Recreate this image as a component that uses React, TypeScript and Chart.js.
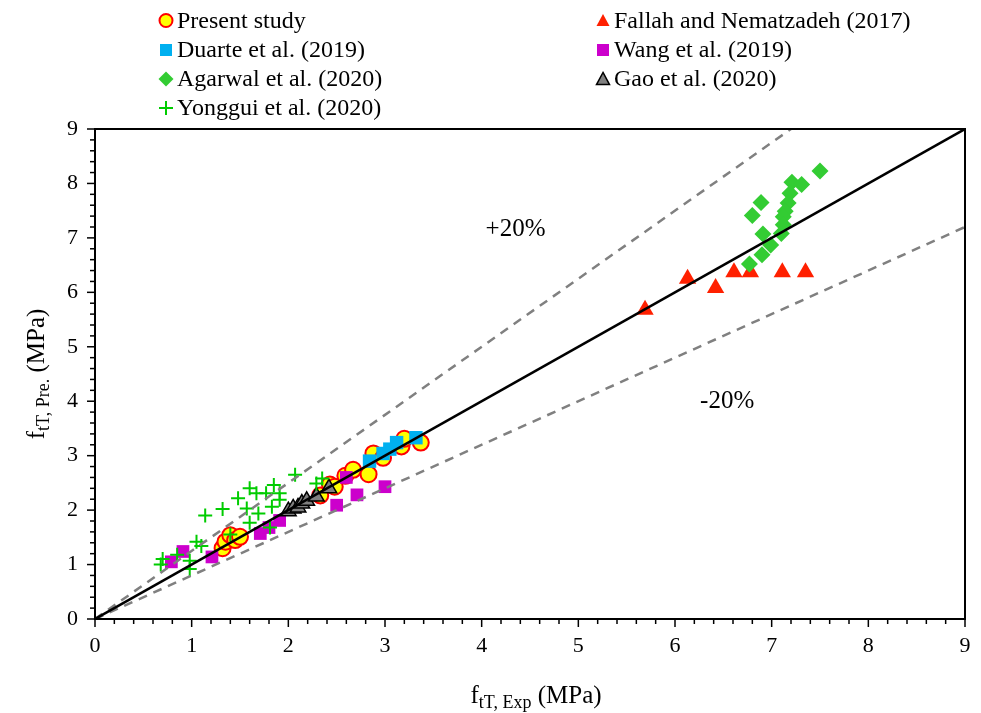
import React, { useEffect, useRef } from 'react';
import { Chart, registerables } from 'chart.js';

Chart.register(...registerables);

const FONT = '"Liberation Serif", "Times New Roman", Times, serif';

// ---- Data ----
const presentX = [1.32, 1.35, 1.40, 1.45, 1.50, 2.33, 2.43, 2.48, 2.59, 2.67, 2.83, 2.88, 2.98, 3.17, 3.20, 3.37];
const presentY = [1.30, 1.42, 1.54, 1.45, 1.51, 2.27, 2.47, 2.43, 2.63, 2.74, 2.66, 3.04, 2.96, 3.17, 3.31, 3.24];
const fallahX = [5.69, 6.13, 6.42, 6.61, 6.78, 7.11, 7.35];
const fallahY = [5.68, 6.25, 6.08, 6.37, 6.37, 6.37, 6.37];
const duarteX = [2.84, 2.98, 3.05, 3.12, 3.32];
const duarteY = [2.90, 3.04, 3.12, 3.24, 3.33];
const wangX = [0.79, 0.91, 1.21, 1.71, 1.80, 1.91, 2.50, 2.71, 3.00, 2.60];
const wangY = [1.05, 1.24, 1.14, 1.57, 1.68, 1.81, 2.09, 2.28, 2.43, 2.60];
const agarwalX = [7.50, 7.21, 7.31, 7.19, 6.89, 7.17, 6.80, 7.14, 7.12, 7.12, 6.91, 7.10, 6.99, 6.90, 6.77];
const agarwalY = [8.23, 8.02, 7.98, 7.82, 7.65, 7.64, 7.41, 7.49, 7.39, 7.24, 7.07, 7.08, 6.87, 6.69, 6.52];
const gaoX = [2.00, 2.05, 2.10, 2.14, 2.19, 2.29, 2.42];
const gaoY = [1.98, 2.03, 2.05, 2.12, 2.17, 2.25, 2.40];
const yongguiX = [0.68, 0.70, 0.85, 0.98, 0.98, 1.05, 1.10, 1.14, 1.32, 1.40, 1.48, 1.57, 1.60, 1.67, 1.69, 1.60, 1.77, 1.85, 1.91, 1.91, 1.83, 1.81, 2.07, 2.29, 2.35];
const yongguiY = [1.00, 1.10, 1.18, 1.07, 0.92, 1.42, 1.34, 1.90, 2.02, 1.55, 2.22, 2.03, 2.40, 2.31, 1.94, 1.77, 2.31, 2.46, 2.31, 2.19, 2.06, 1.68, 2.65, 2.49, 2.58];

// Reference lines
const equalityX = [0, 9];
const equalityY = [0, 9];
const plus20X = [0, 7.2];
const plus20Y = [0, 9];
const minus20X = [0, 9];
const minus20Y = [0, 7.2];

// Band labels
const bandLabels = ['+20%', '-20%'];
const bandLabelX = [4.35, 6.54];
const bandLabelY = [7.15, 3.99];

// Axis
const axisMin = 0;
const axisMax = 9;

const toPts = (xs: number[], ys: number[]) => xs.map((x, i) => ({ x, y: ys[i] }));

type Marker = {
  style: string;
  fill: string;
  stroke: string;
  lw: number;
};

function drawMarker(ctx: CanvasRenderingContext2D, m: Marker, x: number, y: number, r: number) {
  ctx.save();
  ctx.beginPath();
  ctx.fillStyle = m.fill;
  ctx.strokeStyle = m.stroke;
  ctx.lineWidth = m.lw;
  if (m.style === 'circle') {
    ctx.arc(x, y, r, 0, Math.PI * 2);
    ctx.fill();
    ctx.stroke();
  } else if (m.style === 'rect') {
    ctx.rect(x - r, y - r, 2 * r, 2 * r);
    ctx.fill();
    if (m.lw > 0) ctx.stroke();
  } else if (m.style === 'rectRot') {
    ctx.moveTo(x, y - r);
    ctx.lineTo(x + r, y);
    ctx.lineTo(x, y + r);
    ctx.lineTo(x - r, y);
    ctx.closePath();
    ctx.fill();
    if (m.lw > 0) ctx.stroke();
  } else if (m.style === 'triangle') {
    const h = r * 1.7;
    ctx.moveTo(x, y - h / 2 - 1);
    ctx.lineTo(x + r, y + h / 2);
    ctx.lineTo(x - r, y + h / 2);
    ctx.closePath();
    ctx.fill();
    if (m.lw > 0) ctx.stroke();
  } else if (m.style === 'cross') {
    ctx.moveTo(x - r, y);
    ctx.lineTo(x + r, y);
    ctx.moveTo(x, y - r);
    ctx.lineTo(x, y + r);
    ctx.stroke();
  }
  ctx.restore();
}

type Part = { t: string; size: number; dy: number };

function drawParts(ctx: CanvasRenderingContext2D, parts: Part[], cx: number, baseY: number) {
  let total = 0;
  const widths = parts.map((p) => {
    ctx.font = `${p.size}px ${FONT}`;
    const w = ctx.measureText(p.t).width;
    total += w;
    return w;
  });
  let x = cx - total / 2;
  ctx.textAlign = 'left';
  ctx.textBaseline = 'alphabetic';
  ctx.fillStyle = '#000';
  parts.forEach((p, i) => {
    ctx.font = `${p.size}px ${FONT}`;
    ctx.fillText(p.t, x, baseY + p.dy);
    x += widths[i];
  });
}

const legendLayout: Record<string, { col: number; row: number }> = {
  'Present study': { col: 0, row: 0 },
  'Fallah and Nematzadeh (2017)': { col: 1, row: 0 },
  'Duarte et al. (2019)': { col: 0, row: 1 },
  'Wang et al. (2019)': { col: 1, row: 1 },
  'Agarwal et al. (2020)': { col: 0, row: 2 },
  'Gao et al. (2020)': { col: 1, row: 2 },
  'Yonggui et al. (2020)': { col: 0, row: 3 },
};

const seriesMarkers: Record<string, Marker> = {
  'Present study': { style: 'circle', fill: '#FFFF00', stroke: '#FF0000', lw: 2 },
  'Fallah and Nematzadeh (2017)': { style: 'triangle', fill: '#FF2000', stroke: '#FF2000', lw: 0 },
  'Duarte et al. (2019)': { style: 'rect', fill: '#00B0F0', stroke: '#00B0F0', lw: 0 },
  'Wang et al. (2019)': { style: 'rect', fill: '#CC00CC', stroke: '#CC00CC', lw: 0 },
  'Agarwal et al. (2020)': { style: 'rectRot', fill: '#33CC33', stroke: '#33CC33', lw: 0 },
  'Gao et al. (2020)': { style: 'triangle', fill: '#808080', stroke: '#000000', lw: 1.5 },
  'Yonggui et al. (2020)': { style: 'cross', fill: '#00CC00', stroke: '#00CC00', lw: 2 },
};

const customPlugin = {
  id: 'customDecor',
  afterDraw(chart: any) {
    const { ctx, chartArea: ca, scales } = chart;
    const xs = scales.x;
    const ys = scales.y;
    ctx.save();

    // frame
    ctx.strokeStyle = '#000';
    ctx.lineWidth = 2;
    ctx.strokeRect(ca.left, ca.top, ca.right - ca.left, ca.bottom - ca.top);

    // major + minor ticks (outward)
    ctx.lineWidth = 1.5;
    const steps = Math.round((axisMax - axisMin) / 0.2);
    for (let i = 0; i <= steps; i++) {
      const v = axisMin + i * 0.2;
      const len = i % 5 === 0 ? 8 : 5;
      const px = xs.getPixelForValue(v);
      ctx.beginPath();
      ctx.moveTo(px, ca.bottom);
      ctx.lineTo(px, ca.bottom + len);
      ctx.stroke();
      const py = ys.getPixelForValue(v);
      ctx.beginPath();
      ctx.moveTo(ca.left, py);
      ctx.lineTo(ca.left - len, py);
      ctx.stroke();
    }

    // band labels
    ctx.fillStyle = '#000';
    ctx.font = `25px ${FONT}`;
    ctx.textAlign = 'center';
    ctx.textBaseline = 'middle';
    bandLabels.forEach((t, i) => {
      ctx.fillText(t, xs.getPixelForValue(bandLabelX[i]), ys.getPixelForValue(bandLabelY[i]));
    });

    // x title
    const cxTitle = (ca.left + ca.right) / 2 + 6;
    drawParts(
      ctx,
      [
        { t: 'f', size: 25, dy: 0 },
        { t: 'tT, Exp', size: 18, dy: 5 },
        { t: ' (MPa)', size: 25, dy: 0 },
      ],
      cxTitle,
      703
    );

    // y title (rotated)
    ctx.save();
    ctx.translate(44, (ca.top + ca.bottom) / 2);
    ctx.rotate(-Math.PI / 2);
    drawParts(
      ctx,
      [
        { t: 'f', size: 25, dy: 0 },
        { t: 'tT, Pre.', size: 18, dy: 5 },
        { t: ' (MPa)', size: 25, dy: 0 },
      ],
      0,
      0
    );
    ctx.restore();

    // legend
    const colMarkerX = [166, 603];
    const rowY = [20.5, 50, 79, 108];
    ctx.font = `24px ${FONT}`;
    ctx.textAlign = 'left';
    ctx.textBaseline = 'middle';
    chart.data.datasets.forEach((ds: any) => {
      const pos = legendLayout[ds.label];
      if (!pos) return;
      const m = seriesMarkers[ds.label];
      const mx = colMarkerX[pos.col];
      const my = rowY[pos.row];
      const r = m.style === 'rect' ? 6 : m.style === 'cross' ? 7 : m.style === 'triangle' ? 6.5 : m.style === 'rectRot' ? 7.5 : 6.5;
      drawMarker(ctx, m, mx, my, r);
      ctx.fillStyle = '#000';
      ctx.font = `24px ${FONT}`;
      ctx.fillText(ds.label, mx + 11, my + 1);
    });

    ctx.restore();
  },
};

function series(label: string, xs: number[], ys: number[], radius: number) {
  const m = seriesMarkers[label];
  return {
    label,
    data: toPts(xs, ys),
    showLine: false,
    pointStyle: m.style,
    pointRadius: radius,
    pointHoverRadius: radius,
    pointBackgroundColor: m.fill,
    pointBorderColor: m.stroke,
    pointBorderWidth: m.lw,
    backgroundColor: m.fill,
    borderColor: m.stroke,
  };
}

function refLine(label: string, xs: number[], ys: number[], color: string, dash: number[]) {
  return {
    label,
    data: toPts(xs, ys),
    showLine: true,
    pointRadius: 0,
    pointHoverRadius: 0,
    borderColor: color,
    borderWidth: 2.5,
    borderDash: dash,
    fill: false,
    backgroundColor: color,
  };
}

export default function App() {
  const canvasRef = useRef<HTMLCanvasElement | null>(null);

  useEffect(() => {
    document.body.style.margin = '0';
    const canvas = canvasRef.current;
    if (!canvas) return;

    const datasets: any[] = [
      refLine('1:1', equalityX, equalityY, '#000000', []),
      refLine('+20% line', plus20X, plus20Y, '#808080', [9, 7]),
      refLine('-20% line', minus20X, minus20Y, '#808080', [9, 7]),
      series('Yonggui et al. (2020)', yongguiX, yongguiY, 7),
      series('Gao et al. (2020)', gaoX, gaoY, 9),
      series('Duarte et al. (2019)', duarteX, duarteY, 9.5),
      series('Wang et al. (2019)', wangX, wangY, 9),
      series('Agarwal et al. (2020)', agarwalX, agarwalY, 8.5),
      series('Fallah and Nematzadeh (2017)', fallahX, fallahY, 10),
      series('Present study', presentX, presentY, 8),
    ];

    const chart = new Chart(canvas, {
      type: 'scatter',
      data: { datasets },
      options: {
        responsive: false,
        animation: false,
        events: [],
        layout: { padding: { top: 129, right: 16, left: 0, bottom: 0 } },
        plugins: {
          legend: { display: false },
          tooltip: { enabled: false },
          title: { display: false },
        },
        scales: {
          x: {
            type: 'linear',
            min: axisMin,
            max: axisMax,
            grid: { display: false, drawTicks: false },
            border: { display: false },
            ticks: {
              stepSize: 1,
              padding: 14,
              color: '#000',
              font: { family: FONT, size: 22 },
            },
            afterFit: (scale: any) => {
              scale.height = 94;
              scale.paddingLeft = 0;
              scale.paddingRight = 0;
            },
          },
          y: {
            type: 'linear',
            min: axisMin,
            max: axisMax,
            grid: { display: false, drawTicks: false },
            border: { display: false },
            ticks: {
              stepSize: 1,
              padding: 17,
              color: '#000',
              font: { family: FONT, size: 22 },
            },
            afterFit: (scale: any) => {
              scale.width = 95;
              scale.paddingTop = 0;
              scale.paddingBottom = 0;
            },
          },
        },
      },
      plugins: [customPlugin],
    });

    return () => {
      chart.destroy();
    };
  }, []);

  return (
    <div style={{ width: 981, height: 713, background: '#fff' }}>
      <canvas ref={canvasRef} width={981} height={713} style={{ display: 'block' }} />
    </div>
  );
}
